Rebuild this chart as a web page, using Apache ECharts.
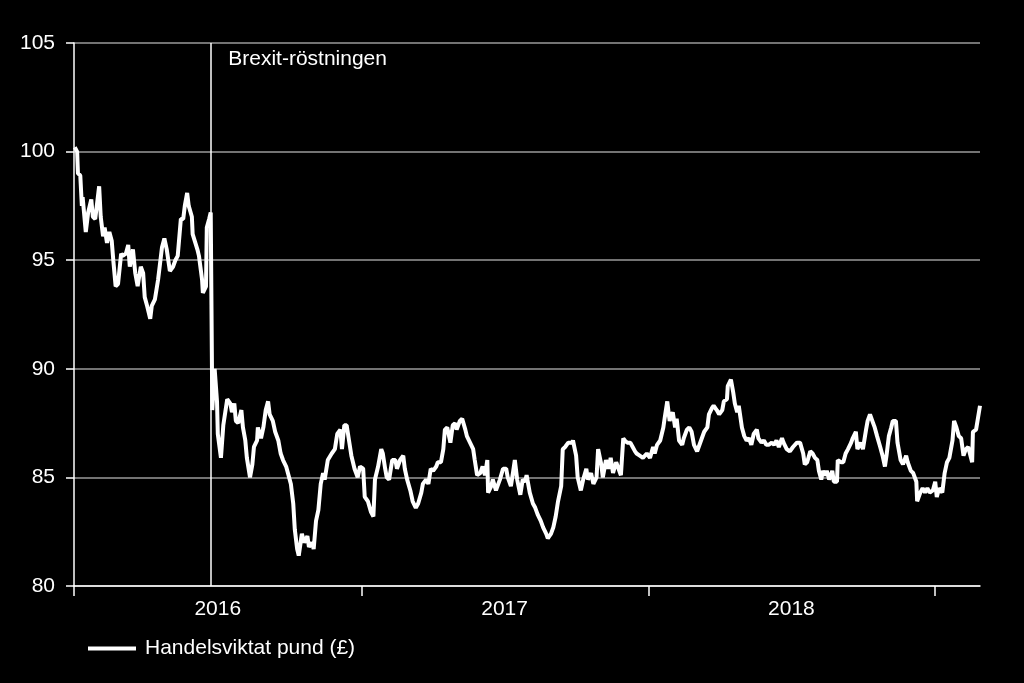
<!DOCTYPE html>
<html>
<head>
<meta charset="utf-8">
<script src="https://cdn.jsdelivr.net/npm/echarts@6/dist/echarts.min.js"></script>
<style>
html,body{margin:0;padding:0;background:#000;}
#c{width:1024px;height:683px;}
</style>
</head>
<body>
<div id="c"></div>
<script>
// Days since 2016-01-01
const dayOffsets = [
1,4,5,8,10,11,15,18,22,24,27,29,32,34,37,39,42,45,48,50,53,56,60,62,66,69,71,75,78,81,85,88,90,93,97,99,103,107,112,115,118,122,126,129,132,136,139,141,144,146,150,151,157,159,163,164,168,169,172,174,
176,179,182,183,187,190,195,199,201,204,206,209,213,215,218,220,224,227,229,233,234,238,241,244,247,249,253,256,260,263,266,270,272,276,279,281,284,286,290,293,297,299,303,305,308,311,314,317,319,323,328,332,335,339,341,344,347,350,353,357,361,
364,368,370,374,378,381,383,387,391,393,396,398,401,405,409,411,415,419,421,424,428,431,435,438,442,444,448,451,454,457,461,463,467,470,472,475,479,482,485,487,491,494,498,500,504,508,510,513,517,520,523,526,527,531,533,537,540,
542,546,550,552,556,559,561,564,568,571,574,576,580,584,587,590,594,597,601,603,607,610,613,616,620,622,625,629,634,635,639,641,645,648,652,654,658,661,665,667,671,673,677,680,683,686,690,692,696,699,701,704,708,711,714,716,
720,724,729,733,737,739,742,746,750,752,755,758,762,765,767,770,774,776,780,783,786,789,793,795,799,802,806,808,812,814,818,821,825,827,831,832,836,839,841,844,846,850,853,856,859,862,865,869,871,875,878,881,884,888,891,894,897,901,903,907,
911,915,920,924,928,930,933,937,940,943,946,948,951,953,956,958,961,965,967,971,972,976,979,982,985,989,991,995,997,1001,1004,1008,1010,1013,1017,1019,1022,1026,1029,1032,1034,1037,1040,1042,1046,1048,1052,1055,1059,1061,1065,1068,1072,1073,1077,1080,1083,1086,1089,1093,1096,1098,1101,1105,1108,1111,1114,1118,1120,1123,1126,1129,1132,1135,1138,1143,1144,1148,1150,1153
];
const values = [
100.2,100.0,99.0,98.9,97.5,97.9,96.3,97.2,97.8,97.0,96.9,97.5,98.4,97.0,96.1,96.5,95.8,96.3,95.9,95.0,93.8,93.9,95.3,95.2,95.3,95.7,94.7,95.5,94.4,93.8,94.7,94.4,93.3,92.9,92.3,92.9,93.2,94.1,95.6,96.0,95.5,94.5,94.7,95.0,95.2,96.9,96.9,97.5,98.1,97.5,97.0,96.2,95.5,95.2,94.1,93.5,93.8,96.5,96.9,97.2,
88.1,90.0,88.5,87.0,85.9,87.4,88.6,88.4,88.0,88.4,87.6,87.5,88.1,87.3,86.7,85.9,85.0,85.6,86.4,86.7,87.3,86.8,87.3,88.1,88.5,87.9,87.6,87.1,86.7,86.1,85.8,85.5,85.5,84.7,83.8,82.6,81.7,81.4,82.4,82.0,82.3,81.8,82.0,81.7,83.0,83.5,84.7,85.2,84.9,85.8,86.1,86.3,87.0,87.2,86.3,87.4,87.4,86.7,86.0,85.4,85.0,
85.5,85.4,84.1,83.9,83.4,83.2,84.9,85.5,86.3,86.1,85.4,85.0,84.9,85.8,85.8,85.4,85.8,86.0,85.4,84.9,84.4,83.9,83.6,83.8,84.3,84.7,84.9,84.7,85.4,85.3,85.5,85.7,85.7,86.3,87.2,87.3,86.6,87.4,87.5,87.2,87.6,87.7,87.2,86.9,86.6,86.3,85.8,85.1,85.2,85.5,85.1,85.8,84.3,84.6,84.9,84.4,84.7,
84.9,85.4,85.4,85.0,84.6,85.3,85.8,84.9,84.2,84.9,84.8,85.1,84.3,83.8,83.6,83.3,83.0,82.7,82.4,82.2,82.4,82.7,83.2,83.9,84.6,86.3,86.4,86.6,86.6,86.7,86.0,85.0,84.4,84.9,85.4,84.9,85.2,84.7,85.0,86.3,85.6,85.0,85.8,85.4,85.9,85.2,85.7,85.5,85.1,86.8,86.7,86.6,86.6,86.4,86.2,86.1,
86.0,85.9,86.1,85.9,86.4,86.1,86.5,86.7,87.3,87.8,88.5,87.6,88.0,87.3,87.7,86.7,86.5,86.8,87.2,87.3,87.1,86.5,86.2,86.4,86.8,87.1,87.3,87.9,88.2,88.3,88.1,87.9,88.1,88.5,88.6,89.2,89.5,88.9,88.4,88.0,88.3,87.3,86.9,86.7,86.8,86.5,87.0,87.2,86.8,86.6,86.7,86.5,86.5,86.6,86.5,86.7,86.4,86.8,86.6,86.3,
86.2,86.4,86.6,86.6,86.1,85.6,85.7,86.2,86.1,85.9,85.8,85.3,84.9,85.3,85.1,85.3,84.9,85.3,84.8,84.8,85.8,85.7,85.7,86.1,86.3,86.6,86.8,87.1,86.3,86.6,86.3,87.2,87.6,87.9,87.5,87.3,86.9,86.4,86.0,85.5,86.0,86.9,87.3,87.6,87.6,86.6,85.8,85.6,86.0,85.7,85.3,85.2,84.8,83.9,84.3,84.5,84.3,84.5,84.3,84.4,84.8,84.1,84.5,84.3,85.2,85.7,85.9,86.7,87.6,87.3,86.9,86.8,86.0,86.3,86.4,85.7,87.1,87.2,87.2,88.3
];
const seriesName = 'Handelsviktat pund (£)';
const yearStartDays = [0, 366, 731, 1096];
const yearLabelDays = [183, 548, 913];
const yearLabels = ['2016', '2017', '2018'];
const yTicks = [80, 85, 90, 95, 100, 105];
const brexitDay = 174;
const brexitLabel = 'Brexit-röstningen';
const lastDay = 1153;

const seriesData = dayOffsets.map((d, i) => [d, values[i]]);
const FONT = '"Liberation Sans", Arial, sans-serif';
const FS = 21;

const chart = echarts.init(document.getElementById('c'), null, {renderer: 'canvas'});
chart.setOption({
  backgroundColor: '#000',
  animation: false,
  textStyle: {fontFamily: FONT},
  grid: {left: 74, right: 44, top: 43, bottom: 97},
  legend: {
    data: [seriesName],
    left: 88, top: 638, padding: 0,
    icon: 'rect', itemWidth: 48, itemHeight: 4,
    textStyle: {color: '#fff', fontSize: FS, fontFamily: FONT, padding: [0, 0, 0, 4]},
    itemStyle: {color: '#fff'}
  },
  xAxis: {
    type: 'value',
    min: 0, max: lastDay,
    axisLine: {show: true, lineStyle: {color: '#fff', width: 1.5}},
    axisTick: {show: true, length: 10, customValues: yearStartDays, lineStyle: {color: '#fff', width: 1.5}},
    axisLabel: {
      show: true, customValues: yearLabelDays, margin: 13,
      color: '#fff', fontSize: FS, fontFamily: FONT,
      formatter: v => yearLabels[yearLabelDays.indexOf(v)] || ''
    },
    splitLine: {show: false}
  },
  yAxis: {
    type: 'value',
    min: yTicks[0], max: yTicks[yTicks.length - 1], interval: 5,
    axisLine: {show: true, lineStyle: {color: '#fff', width: 1.5}},
    axisTick: {show: true, length: 8, lineStyle: {color: '#fff', width: 1.5}},
    axisLabel: {color: '#fff', fontSize: FS, fontFamily: FONT, margin: 19},
    splitLine: {show: true, lineStyle: {color: '#9a9a9a', width: 1.5}}
  },
  series: [{
    name: seriesName,
    type: 'line',
    data: seriesData,
    showSymbol: false,
    symbol: 'none',
    lineStyle: {color: '#fff', width: 4},
    itemStyle: {color: '#fff'},
    z: 5,
    markLine: {
      silent: true,
      symbol: 'none',
      label: {show: false},
      lineStyle: {color: '#fff', width: 1.5, type: 'solid'},
      data: [{xAxis: brexitDay}],
      z: 3
    },
    markPoint: {
      silent: true,
      symbol: 'circle', symbolSize: 1,
      itemStyle: {color: 'rgba(0,0,0,0)'},
      label: {
        show: true, position: 'right', distance: 0, offset: [17, 16],
        color: '#fff', fontSize: FS, fontFamily: FONT,
        formatter: brexitLabel
      },
      data: [{coord: [brexitDay, yTicks[yTicks.length - 1]]}]
    }
  }]
});
</script>
</body>
</html>
